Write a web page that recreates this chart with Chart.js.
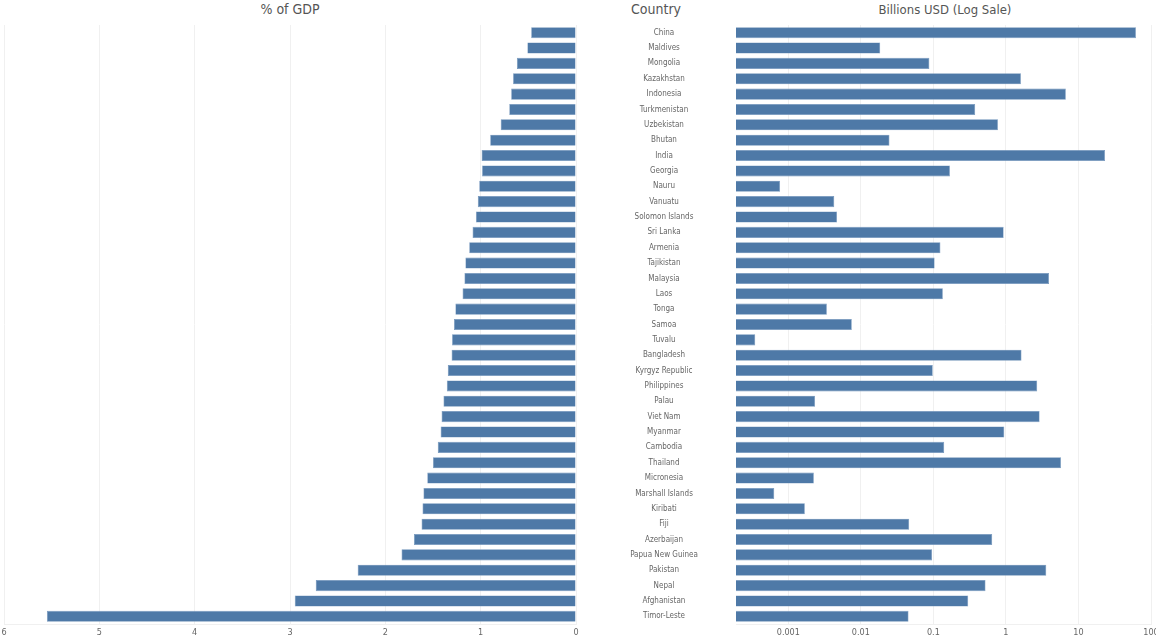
<!DOCTYPE html>
<html>
<head>
<meta charset="utf-8">
<script src="https://cdn.jsdelivr.net/npm/chart.js@4/dist/chart.umd.min.js"></script>
<style>
  html, body { margin:0; padding:0; background:#fff; overflow:hidden; width:1156px; height:641px; }
  .hdr { position:absolute; top:1px; font-family:'Liberation Sans Narrow','DejaVu Sans Condensed',Lato,sans-serif; font-size:14px; color:#555; white-space:nowrap; transform:translateX(-50%); }
  canvas { position:absolute; top:0; }
</style>
</head>
<body>
<div class="hdr" style="left:290px">% of GDP</div>
<div class="hdr" style="left:656px">Country</div>
<div class="hdr" style="left:945px;font-size:13px;top:2px">Billions USD (Log Sale)</div>
<canvas id="left" width="736" height="641" style="left:0"></canvas>
<canvas id="right" width="432" height="641" style="left:736px"></canvas>
<script>
const countries = ["China","Maldives","Mongolia","Kazakhstan","Indonesia","Turkmenistan","Uzbekistan","Bhutan","India","Georgia","Nauru","Vanuatu","Solomon Islands","Sri Lanka","Armenia","Tajikistan","Malaysia","Laos","Tonga","Samoa","Tuvalu","Bangladesh","Kyrgyz Republic","Philippines","Palau","Viet Nam","Myanmar","Cambodia","Thailand","Micronesia","Marshall Islands","Kiribati","Fiji","Azerbaijan","Papua New Guinea","Pakistan","Nepal","Afghanistan","Timor-Leste"];
const pctGDP = [0.47,0.51,0.62,0.66,0.68,0.70,0.79,0.90,0.99,0.985,1.015,1.03,1.05,1.085,1.12,1.16,1.17,1.19,1.265,1.28,1.30,1.305,1.345,1.355,1.39,1.41,1.42,1.45,1.50,1.56,1.60,1.61,1.62,1.70,1.83,2.29,2.73,2.95,5.55];
const billionsUSD = [62,0.0185,0.088,1.61,6.7,0.377,0.776,0.0248,23.2,0.169,0.00077,0.0043,0.0047,0.93,0.125,0.104,3.92,0.135,0.0034,0.0075,0.00035,1.64,0.098,2.7,0.00234,2.91,0.95,0.141,5.74,0.00225,0.00064,0.00169,0.0464,0.647,0.096,3.6,0.523,0.302,0.0454];
const gdpTicks = [0,1,2,3,4,5,6];
const logTicks = [0.001,0.01,0.1,1,10,100];
const logTickLabels = ["0.001","0.01","0.1","1","10","100"];

const FONT = "'Liberation Sans Narrow','DejaVu Sans Condensed',Lato,sans-serif";
const barColor = '#4e79a7';
const gridColor = '#f0f0f0';
const textColor = '#666';

// measure widest country label to center it in the middle band
const mctx = document.createElement('canvas').getContext('2d');
mctx.font = "8px " + FONT;
let widest = 0;
countries.forEach(c => { widest = Math.max(widest, mctx.measureText(c).width); });
const bandW = 160;
const labelPad = (bandW - widest) / 2;

const common = {
  responsive:false, devicePixelRatio:1, animation:false, indexAxis:'y',
  plugins:{ legend:{display:false}, tooltip:{enabled:false} }
};

new Chart(document.getElementById('left'), {
  type:'bar',
  data:{ labels:countries, datasets:[{ data:pctGDP, backgroundColor:barColor, borderColor:'#6f93bb', borderWidth:0.6, barPercentage:0.72, categoryPercentage:1 }] },
  options:{ ...common,
    layout:{ padding:{ top:25, left:4, right:0, bottom:0 } },
    scales:{
      x:{ type:'linear', reverse:true, min:0, max:6,
          afterBuildTicks: s => { s.ticks = gdpTicks.map(v => ({value:v})); },
          ticks:{ font:{family:FONT,size:9,lineHeight:1}, color:textColor, padding:4, maxRotation:0,
                  callback: v => String(v) },
          grid:{ color:gridColor, drawTicks:false },
          border:{ display:true, color:gridColor } },
      y:{ position:'right',
          grid:{ display:false }, border:{ display:false },
          ticks:{ font:{family:FONT,size:8}, color:textColor, crossAlign:'center', padding:labelPad, autoSkip:false },
          afterFit: s => { s.width = bandW; s.paddingTop = 0; s.paddingBottom = 0; } }
    }
  }
});

new Chart(document.getElementById('right'), {
  type:'bar',
  data:{ labels:countries, datasets:[{ data:billionsUSD, backgroundColor:barColor, borderColor:'#6f93bb', borderWidth:0.6, barPercentage:0.72, categoryPercentage:1, base:0.00019 }] },
  options:{ ...common,
    layout:{ padding:{ top:25, left:0, right:17, bottom:0 } },
    scales:{
      x:{ type:'logarithmic', min:0.00019, max:100,
          afterBuildTicks: s => { s.ticks = logTicks.map(v => ({value:v})); },
          ticks:{ font:{family:FONT,size:9,lineHeight:1}, color:textColor, padding:4, maxRotation:0, autoSkip:false,
                  callback: (v) => { const i = logTicks.indexOf(v); return i >= 0 ? logTickLabels[i] : ''; } },
          grid:{ color:gridColor, drawTicks:false },
          border:{ display:true, color:gridColor } },
      y:{ display:false }
    }
  }
});
</script>
</body>
</html>
